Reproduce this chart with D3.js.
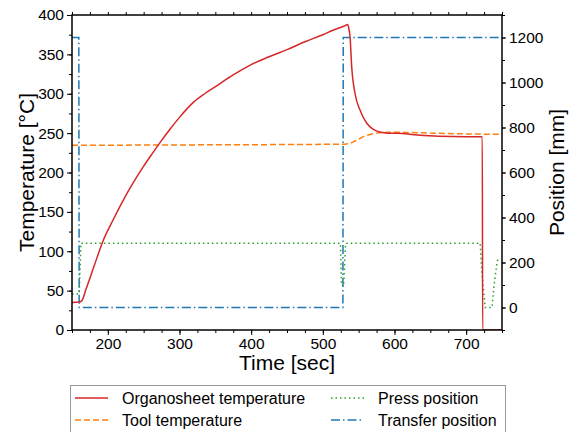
<!DOCTYPE html>
<html>
<head>
<meta charset="utf-8">
<script src="https://cdn.jsdelivr.net/npm/d3@7"></script>
<style>
  html, body { margin: 0; padding: 0; background: #fff; }
  svg { display: block; font-family: "Liberation Sans", Arial, sans-serif; }
</style>
</head>
<body>
<svg id="chart" width="570" height="432"></svg>
<script>
// ---------- data ----------
const organoTime = [150, 160, 163.5, 170, 180, 193.7, 208, 221.6, 235.5, 250, 262, 272.8, 286.7, 300, 319.3, 335, 351.8, 368, 384.4, 400, 425, 450, 475, 500, 515, 530, 534.7, 536, 538, 540.3, 545, 552, 561.3, 570, 580.8, 590, 604, 632, 661.5, 700, 722.5, 723, 750];
const organoTemp = [35, 35.5, 37, 53, 79, 114, 141, 165, 187, 208, 224, 238, 255, 270, 289, 300, 310, 320, 329, 337, 347, 356, 366, 375, 381, 386, 388, 384, 372, 334, 300, 279, 262.5, 255, 251, 250, 250, 247.6, 246, 245.5, 245.5, 0, 0];

const toolTime = [150, 300, 530, 536, 545, 556.7, 565, 575, 590, 604, 650, 700, 750];
const toolTemp = [234.5, 235, 236, 236.5, 240, 245.5, 248, 250, 251, 251, 250, 249, 248.5];

const pressTime = [150, 160, 162.5, 524.5, 526, 529, 531.5, 532.5, 719.5, 722, 726.5, 736, 739, 743, 745];
const pressPos  = [60, 60, 286, 286, 100, 95, 270, 286, 286, 150, 0, 0, 100, 200, 224];

const transferTime = [150, 159.5, 160, 528, 528.5, 750];
const transferPos  = [1200, 1200, 0, 0, 1200, 1200];

const xTicks = [200, 300, 400, 500, 600, 700];
const tempTicks = [0, 50, 100, 150, 200, 250, 300, 350, 400];
const posTicks = [0, 200, 400, 600, 800, 1000, 1200];

const legendLabels = ["Organosheet temperature", "Tool temperature", "Press position", "Transfer position"];

// ---------- layout ----------
const svg = d3.select("#chart");
const L = 72, R = 502, T = 15, B = 330;

const x = d3.scaleLinear().domain([150, 750]).range([L, R]);
const yT = d3.scaleLinear().domain([0, 400]).range([B, T]);
const yP = d3.scaleLinear().domain([-100, 1300]).range([B, T]);

const colors = { organo: "#d62728", tool: "#ff7f0e", press: "#2ca02c", transfer: "#1f77b4" };
const dashes = { organo: null, tool: "6,3", press: "1.5,3", transfer: "9,3,1.5,3" };

svg.append("defs").append("clipPath").attr("id", "clip")
  .append("rect").attr("x", L).attr("y", T).attr("width", R - L).attr("height", B - T);

const plot = svg.append("g").attr("clip-path", "url(#clip)");

function drawSeries(ts, vs, yScale, key, curve) {
  const pts = ts.map((t, i) => [t, vs[i]]);
  plot.append("path")
    .attr("d", d3.line().curve(curve || d3.curveLinear).x(d => x(d[0])).y(d => yScale(d[1]))(pts))
    .attr("fill", "none")
    .attr("stroke", colors[key])
    .attr("stroke-width", 1.5)
    .attr("stroke-dasharray", dashes[key]);
}
drawSeries(transferTime, transferPos, yP, "transfer");
drawSeries(pressTime, pressPos, yP, "press");
drawSeries(toolTime, toolTemp, yT, "tool", d3.curveMonotoneX);
drawSeries(organoTime, organoTemp, yT, "organo", d3.curveMonotoneX);

// ---------- axes ----------
const fontSize = 15.5;
function styleAxis(g) {
  g.select(".domain").remove();
  g.selectAll("line").attr("stroke", "#000").attr("stroke-width", 1);
  g.selectAll("text").attr("font-size", fontSize).attr("fill", "#000");
}
// minor ticks
const xMinor = d3.range(150, 751, 25);
const tMinor = d3.range(0, 401, 25);
const pMinor = d3.range(-100, 1301, 100);

svg.append("g").attr("transform", `translate(0,${B})`)
  .call(d3.axisBottom(x).tickValues(xMinor).tickSize(3).tickFormat(""))
  .call(styleAxis);
svg.append("g").attr("transform", `translate(0,${B})`)
  .call(d3.axisBottom(x).tickValues(xTicks).tickSize(5).tickPadding(3).tickFormat(d3.format("d")))
  .call(styleAxis);
svg.append("g").attr("transform", `translate(0,${T})`)
  .call(d3.axisTop(x).tickValues(xMinor).tickSize(3).tickFormat(""))
  .call(styleAxis);
svg.append("g").attr("transform", `translate(${L},0)`)
  .call(d3.axisLeft(yT).tickValues(tMinor).tickSize(3).tickFormat(""))
  .call(styleAxis);
svg.append("g").attr("transform", `translate(${L},0)`)
  .call(d3.axisLeft(yT).tickValues(tempTicks).tickSize(5).tickPadding(3).tickFormat(d3.format("d")))
  .call(styleAxis);
svg.append("g").attr("transform", `translate(${R},0)`)
  .call(d3.axisRight(yP).tickValues(pMinor).tickSize(3).tickFormat(""))
  .call(styleAxis);
svg.append("g").attr("transform", `translate(${R},0)`)
  .call(d3.axisRight(yP).tickValues(posTicks).tickSize(4).tickPadding(3).tickFormat(d3.format("d")))
  .call(styleAxis);

// frame
svg.append("rect").attr("x", L).attr("y", T).attr("width", R - L).attr("height", B - T)
  .attr("fill", "none").attr("stroke", "#000").attr("stroke-width", 1.5);

// axis titles
svg.append("text").attr("x", (L + R) / 2).attr("y", 370).attr("text-anchor", "middle")
  .attr("font-size", 21).text("Time [sec]");
svg.append("text").attr("transform", `translate(34,${(T + B) / 2}) rotate(-90)`).attr("text-anchor", "middle")
  .attr("font-size", 21).text("Temperature [°C]");
svg.append("text").attr("transform", `translate(564,${(T + B) / 2}) rotate(-90)`).attr("text-anchor", "middle")
  .attr("font-size", 21).text("Position [mm]");

// ---------- legend ----------
const leg = svg.append("g");
leg.append("rect").attr("x", 70.5).attr("y", 385.5).attr("width", 435).attr("height", 60)
  .attr("fill", "#fff").attr("stroke", "#999").attr("stroke-width", 1);
const legItems = [
  { key: "organo", label: legendLabels[0], lx: 75, ty: 398 },
  { key: "tool", label: legendLabels[1], lx: 75, ty: 420 },
  { key: "press", label: legendLabels[2], lx: 331, ty: 398 },
  { key: "transfer", label: legendLabels[3], lx: 331, ty: 420 }
];
legItems.forEach(it => {
  leg.append("line").attr("x1", it.lx).attr("x2", it.lx + 33).attr("y1", it.ty).attr("y2", it.ty)
    .attr("stroke", colors[it.key]).attr("stroke-width", 1.5).attr("stroke-dasharray", dashes[it.key]);
  leg.append("text").attr("x", it.lx + 47).attr("y", it.ty).attr("dy", "0.35em")
    .attr("font-size", 16).text(it.label);
});
</script>
</body>
</html>
